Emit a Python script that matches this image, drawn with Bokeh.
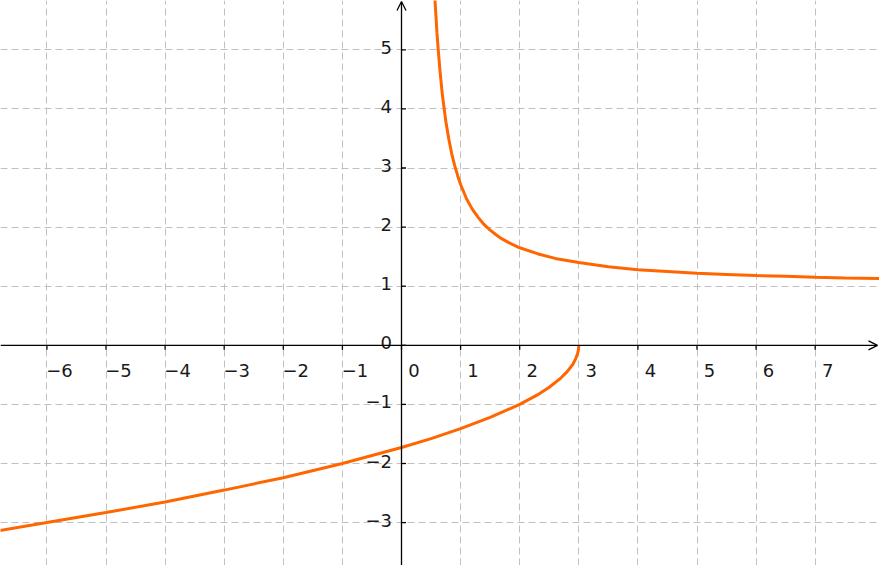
from bokeh.plotting import figure
from bokeh.models import FixedTicker, Arrow, OpenHead, ColumnDataSource
from bokeh.core.properties import value
from bokeh.embed import file_html
from bokeh.resources import INLINE

# ---- data ----
# upper branch (x > 0)
upper_x = [0.55, 0.57, 0.6, 0.62, 0.65, 0.68, 0.7, 0.75, 0.8, 0.85, 0.9, 0.95, 1.0,
           1.1, 1.2, 1.3, 1.4, 1.5, 1.6, 1.7, 1.85, 2.0, 2.3, 2.6, 3.0, 3.5, 4.0, 4.5, 5.0,
           5.5, 6.0, 6.5, 7.0, 7.5, 8.2]
upper_y = [6.16, 5.78, 5.29, 5.02, 4.66, 4.35, 4.17, 3.79, 3.49, 3.24, 3.04, 2.87, 2.72,
           2.48, 2.30, 2.16, 2.04, 1.95, 1.87, 1.80, 1.72, 1.65, 1.55, 1.47, 1.40, 1.33, 1.28, 1.25, 1.22,
           1.20, 1.18, 1.17, 1.15, 1.14, 1.13]
# lower branch (x <= 3)
lower_x = [-6.9, -6.0, -5.0, -4.0, -3.0, -2.0, -1.0, 0.0, 0.5, 1.0, 1.5, 2.0, 2.3,
           2.5, 2.7, 2.8, 2.9, 2.95, 2.98, 2.995, 3.0]
lower_y = [-3.15, -3.0, -2.83, -2.65, -2.45, -2.24, -2.0, -1.73, -1.58, -1.41, -1.22, -1.0, -0.84,
           -0.71, -0.55, -0.45, -0.32, -0.22, -0.14, -0.07, 0.0]

x_ticks = [-6, -5, -4, -3, -2, -1, 0, 1, 2, 3, 4, 5, 6, 7]
x_labels = ["\u22126", "\u22125", "\u22124", "\u22123", "\u22122", "\u22121", "0",
            "1", "2", "3", "4", "5", "6", "7"]
y_ticks = [-3, -2, -1, 0, 1, 2, 3, 4, 5]
y_labels = ["\u22123", "\u22122", "\u22121", "0", "1", "2", "3", "4", "5"]

# ---- layout ----
W, H = 879, 565
UNIT = 59.1
ORIGIN_PX, ORIGIN_PY = 401.0, 344.8
X0, X1 = -ORIGIN_PX / UNIT, (W - ORIGIN_PX) / UNIT
Y0, Y1 = -(H - ORIGIN_PY) / UNIT, ORIGIN_PY / UNIT
PX = PY = UNIT

p = figure(width=W, height=H, x_range=(X0, X1), y_range=(Y0, Y1),
           output_backend="svg", toolbar_location=None,
           x_axis_location=None, y_axis_location=None,
           min_border=0, outline_line_color=None, background_fill_color="white")

grid_x = [t for t in x_ticks if t != 0]
grid_y = [t for t in y_ticks if t != 0]
p.xgrid.ticker = FixedTicker(ticks=grid_x)
p.ygrid.ticker = FixedTicker(ticks=grid_y)
for g in (p.xgrid, p.ygrid):
    g.grid_line_color = "#c0c0c0"
    g.grid_line_dash = "7 4"
    g.grid_line_width = 1

# axes
AX_COL = "#000000"
x_end = X1 - 2 / PX
y_end = Y1 - 1.0 / PY
p.add_layout(Arrow(end=OpenHead(size=9, line_width=1.3, line_color=AX_COL),
                   x_start=X0, y_start=0, x_end=x_end, y_end=0,
                   line_color=AX_COL, line_width=1.3))
p.add_layout(Arrow(end=OpenHead(size=9, line_width=1.3, line_color=AX_COL),
                   x_start=0, y_start=Y0, x_end=0, y_end=y_end,
                   line_color=AX_COL, line_width=1.3))

# ticks
tl = 4.5
p.segment(x0=x_ticks, y0=[0] * len(x_ticks), x1=x_ticks, y1=[-tl / PY] * len(x_ticks),
          line_color=AX_COL, line_width=1.3)
p.segment(x0=[0] * len(y_ticks), y0=y_ticks, x1=[tl / PX] * len(y_ticks), y1=y_ticks,
          line_color=AX_COL, line_width=1.3)

# curves
p.line(upper_x, upper_y, line_color="#ff6600", line_width=3)
p.line(lower_x, lower_y, line_color="#ff6600", line_width=3)

# labels
xs = ColumnDataSource(dict(x=x_ticks, y=[0] * len(x_ticks), t=x_labels))
ys = ColumnDataSource(dict(x=[0] * len(y_ticks), y=y_ticks, t=y_labels))
p.text(x="x", y="y", text="t", source=xs, x_offset=12.5, y_offset=25,
       text_align="center", text_baseline="alphabetic",
       text_font=value("DejaVu Sans"), text_font_size="18px", text_color="#1a1a1a")
p.text(x="x", y="y", text="t", source=ys, x_offset=-9.5, y_offset=-2.5,
       text_align="right", text_baseline="alphabetic",
       text_font=value("DejaVu Sans"), text_font_size="18px", text_color="#1a1a1a")

open("out.html", "w").write(file_html(p, INLINE))
